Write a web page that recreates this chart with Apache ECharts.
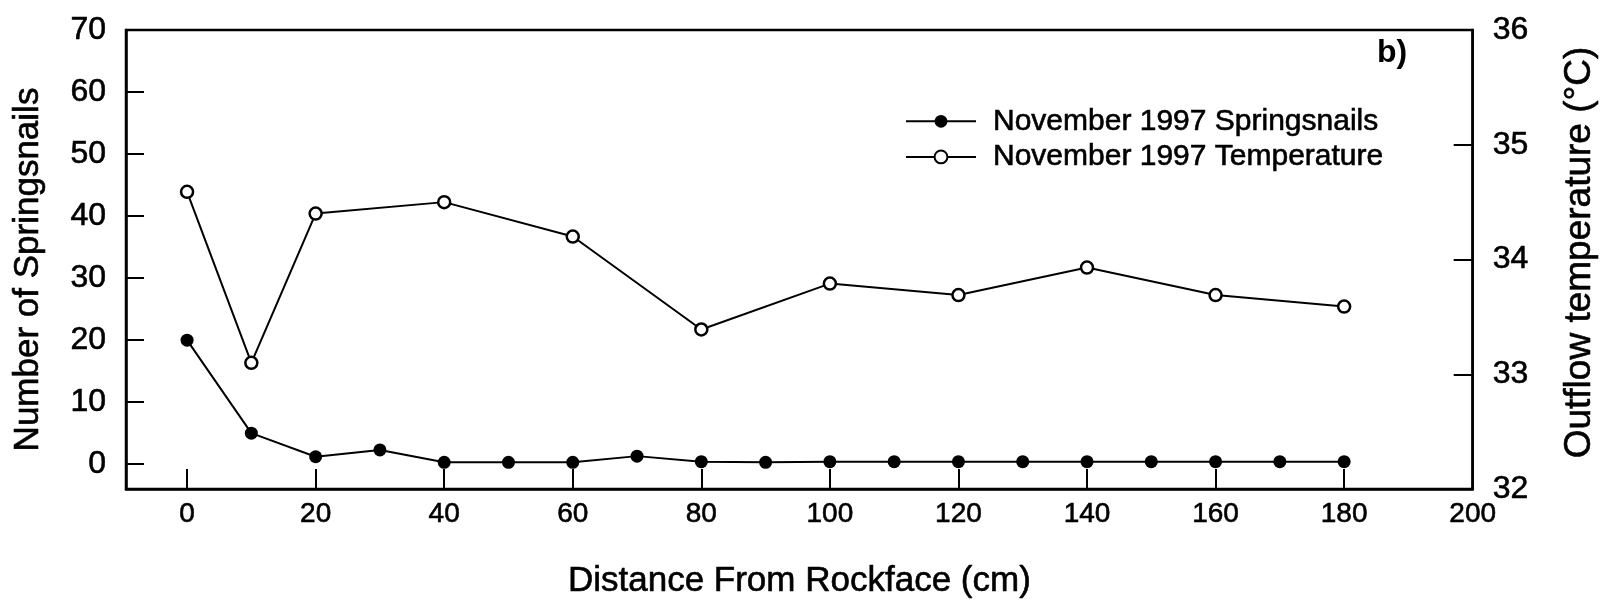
<!DOCTYPE html>
<html>
<head>
<meta charset="utf-8">
<script src="https://cdn.jsdelivr.net/npm/echarts@6/dist/echarts.min.js"></script>
<style>
html,body{margin:0;padding:0;background:#fff;}
#chart{width:1607px;height:605px;}
</style>
</head>
<body>
<div id="chart"></div>
<script>
// ---- data ----
var snailDistance = [0, 10, 20, 30, 40, 50, 60, 70, 80, 90, 100, 110, 120, 130, 140, 150, 160, 170, 180];
var snailCount = [20, 5, 1.2, 2.3, 0.3, 0.3, 0.3, 1.3, 0.4, 0.3, 0.4, 0.4, 0.4, 0.4, 0.4, 0.4, 0.4, 0.4, 0.4];
var tempDistance = [0, 10, 20, 40, 60, 80, 100, 120, 140, 160, 180];
var temperature = [34.59, 33.1, 34.4, 34.5, 34.2, 33.39, 33.79, 33.69, 33.93, 33.69, 33.59];
var xTickValues = [0, 20, 40, 60, 80, 100, 120, 140, 160, 180];
var xLabelValues = [0, 20, 40, 60, 80, 100, 120, 140, 160, 180, 200];
var leftTickValues = [0, 10, 20, 30, 40, 50, 60, 70];
var seriesNames = ['November 1997 Springsnails', 'November 1997 Temperature'];

function pairs(xs, ys) { return xs.map(function (x, i) { return [x, ys[i]]; }); }

var FONT = '"Liberation Sans", Arial, Helvetica, sans-serif';
function ts(size, extra) {
  var o = {fontFamily: FONT, fontSize: size, color: '#000', textBorderColor: '#000', textBorderWidth: 0.6};
  if (extra) for (var k in extra) o[k] = extra[k];
  return o;
}
var chart = echarts.init(document.getElementById('chart'), null, {renderer: 'canvas'});
chart.setOption({
  backgroundColor: '#fff',
  animation: false,
  textStyle: {fontFamily: FONT, color: '#000'},
  grid: {left: 126, right: 130, top: 30, bottom: 116, show: true, borderColor: '#000', borderWidth: 2.5, backgroundColor: 'transparent'},
  legend: {
    orient: 'vertical', left: 900, top: 101, itemWidth: 70, itemHeight: 16, itemGap: 5,
    textStyle: ts(30, {padding: [0, 0, 0, 12]}),
    data: seriesNames
  },
  graphic: [{
    type: 'text', left: 1377, top: 37,
    style: {text: 'b)', font: 'bold 32px ' + FONT, fill: '#000'}
  }],
  xAxis: {
    type: 'value', min: -9.5, max: 200,
    name: 'Distance From Rockface (cm)', nameLocation: 'middle', nameGap: 75,
    nameTextStyle: ts(35),
    axisLine: {show: true, onZero: false, lineStyle: {color: '#000', width: 2.5}},
    axisTick: {show: true, inside: true, length: 20, lineStyle: {color: '#000', width: 2}, customValues: xTickValues},
    axisLabel: ts(28, {margin: 11, customValues: xLabelValues}),
    splitLine: {show: false}
  },
  yAxis: [{
    type: 'value', min: -4, max: 70, position: 'left',
    name: 'Number of Springsnails', nameLocation: 'middle', nameGap: 80,
    nameTextStyle: ts(35, {padding: [0, 20, 0, 0]}),
    axisLine: {show: true, onZero: false, lineStyle: {color: '#000', width: 2.5}},
    axisTick: {show: true, inside: true, length: 18, lineStyle: {color: '#000', width: 2}, customValues: leftTickValues},
    axisLabel: ts(32, {margin: 20, customValues: leftTickValues}),
    splitLine: {show: false}
  }, {
    type: 'value', min: 32, max: 36, interval: 1, position: 'right',
    name: 'Outflow temperature (°C)', nameLocation: 'middle', nameGap: 89,
    nameTextStyle: ts(37, {padding: [0, 0, 0, 14]}),
    axisLine: {show: true, onZero: false, lineStyle: {color: '#000', width: 2.5}},
    axisTick: {show: true, inside: true, length: 19, lineStyle: {color: '#000', width: 2}},
    axisLabel: ts(32, {margin: 20}),
    splitLine: {show: false}
  }],
  series: [{
    name: seriesNames[0], type: 'line', yAxisIndex: 0,
    data: pairs(snailDistance, snailCount),
    symbol: 'circle', symbolSize: 13,
    lineStyle: {color: '#000', width: 2},
    itemStyle: {color: '#000', borderColor: '#000', borderWidth: 0}
  }, {
    name: seriesNames[1], type: 'line', yAxisIndex: 1,
    data: pairs(tempDistance, temperature),
    symbol: 'circle', symbolSize: 12,
    lineStyle: {color: '#000', width: 2},
    itemStyle: {color: '#fff', borderColor: '#000', borderWidth: 2.5}
  }]
});
</script>
</body>
</html>
